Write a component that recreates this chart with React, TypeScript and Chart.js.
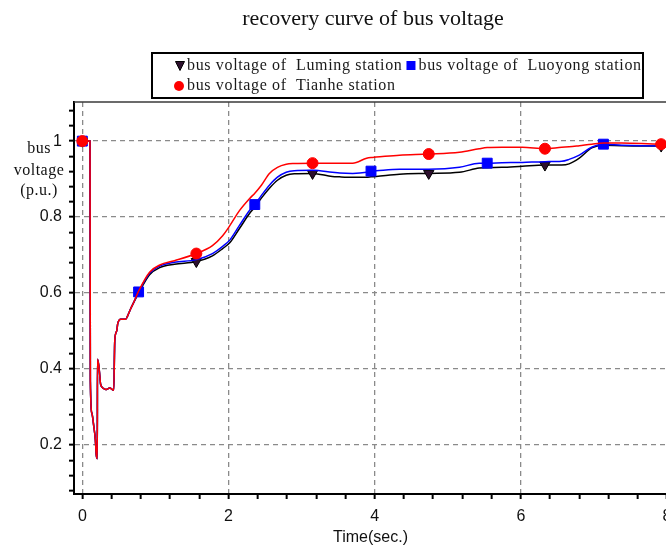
import React, { useEffect, useRef } from 'react';
import { Chart, registerables } from 'chart.js';

Chart.register(...registerables);

const chartTitle = 'recovery curve of bus voltage';
const xAxisTitle = 'Time(sec.)';
const yAxisTitleLines = ['bus', 'voltage', '(p.u.)'];
const seriesLabels = [
  'bus voltage of  Luming station',
  'bus voltage of  Luoyong station',
  'bus voltage of  Tianhe station',
];

const xMajorTicks = [0, 2, 4, 6, 8];
const xTickLabels = ['0', '2', '4', '6', '8'];
const yMajorTicks = [0.2, 0.4, 0.6, 0.8, 1];
const yTickLabels = ['0.2', '0.4', '0.6', '0.8', '1'];

const times = [
  0, 0.105, 0.11, 0.13, 0.157, 0.178, 0.19, 0.205, 0.207, 0.225,
  0.24, 0.25, 0.29, 0.32, 0.375, 0.43, 0.444, 0.47, 0.485, 0.526,
  0.594, 0.62, 0.66, 0.7, 0.77, 0.92, 1.06, 1.26, 1.56, 1.78,
  1.92, 2.02, 2.15, 2.29, 2.36, 2.45, 2.56, 2.67, 2.79, 2.9,
  3.15, 3.42, 3.52, 3.7, 3.89, 3.95, 4.02, 4.34, 4.74, 5.16,
  5.43, 5.54, 5.74, 6.02, 6.33, 6.56, 6.66, 6.8, 6.97, 7.13,
  7.38, 7.92, 8.0,
];

const lumingValues = [
  1.0, 1.0, 0.368, 0.284, 0.249, 0.214, 0.175, 0.164, 0.426, 0.41,
  0.38, 0.36, 0.349, 0.346, 0.35, 0.344, 0.476, 0.5, 0.52, 0.531,
  0.531, 0.54, 0.558, 0.574, 0.6, 0.648, 0.667, 0.676, 0.683, 0.698,
  0.717, 0.733, 0.77, 0.81, 0.826, 0.85, 0.876, 0.897, 0.91, 0.914,
  0.915, 0.907, 0.906, 0.905, 0.905, 0.906, 0.907, 0.913, 0.915, 0.918,
  0.929, 0.93, 0.931, 0.934, 0.937, 0.937, 0.94, 0.955, 0.982, 0.989,
  0.988, 0.987, 0.987,
];

const luoyongValues = [
  1.0, 1.0, 0.368, 0.284, 0.249, 0.214, 0.175, 0.164, 0.426, 0.41,
  0.38, 0.36, 0.349, 0.346, 0.35, 0.344, 0.476, 0.5, 0.52, 0.531,
  0.531, 0.54, 0.558, 0.574, 0.603, 0.652, 0.671, 0.681, 0.688, 0.704,
  0.723, 0.74, 0.778, 0.818, 0.833, 0.857, 0.884, 0.905, 0.918, 0.922,
  0.923, 0.918, 0.916, 0.915, 0.918, 0.921, 0.922, 0.926, 0.926, 0.931,
  0.942, 0.942, 0.943, 0.944, 0.946, 0.947, 0.952, 0.963, 0.984, 0.992,
  0.989, 0.987, 0.987,
];

const tianheValues = [
  1.0, 1.0, 0.368, 0.284, 0.249, 0.214, 0.175, 0.164, 0.426, 0.41,
  0.38, 0.36, 0.349, 0.346, 0.35, 0.344, 0.476, 0.5, 0.52, 0.531,
  0.531, 0.54, 0.558, 0.574, 0.605, 0.655, 0.674, 0.685, 0.704, 0.725,
  0.751, 0.778, 0.817, 0.849, 0.863, 0.884, 0.915, 0.931, 0.939, 0.941,
  0.942, 0.942, 0.942, 0.942, 0.955, 0.957, 0.958, 0.963, 0.966, 0.971,
  0.98, 0.983, 0.984, 0.984, 0.98, 0.984, 0.985, 0.988, 0.992, 0.995,
  0.995, 0.992, 0.992,
];

const lumingMarkerTimes = [0, 1.56, 3.15, 4.74, 6.33, 7.92];
const luoyongMarkerTimes = [0, 0.77, 2.36, 3.95, 5.54, 7.13];
const tianheMarkerTimes = [0, 1.56, 3.15, 4.74, 6.33, 7.92];

const SERIF = '"Liberation Serif", "Times New Roman", serif';
const SANS = '"Liberation Sans", Arial, sans-serif';

function near(a: number, b: number) {
  return Math.abs(a - b) < 1e-6;
}

function buildTicks(from: number, to: number, step: number) {
  const out: { value: number }[] = [];
  for (let v = from; v <= to + 1e-9; v += step) out.push({ value: Math.round(v * 1000) / 1000 });
  return out;
}

function toPoints(values: number[]) {
  return times.map((t, i) => ({ x: t, y: values[i] }));
}

function markerRadius(markers: number[], r: number) {
  return (ctx: any) => {
    const x = ctx.raw && ctx.raw.x;
    return markers.some((m) => near(m, x)) ? r : 0;
  };
}

const decorPlugin = {
  id: 'decor',
  afterDraw(chart: any) {
    const ctx = chart.ctx as CanvasRenderingContext2D;
    const ca = chart.chartArea;
    ctx.save();
    // top frame line
    ctx.strokeStyle = '#3a3a3a';
    ctx.lineWidth = 1.5;
    ctx.beginPath();
    ctx.moveTo(ca.left, ca.top);
    ctx.lineTo(ca.right, ca.top);
    ctx.stroke();

    // title
    ctx.fillStyle = '#111';
    ctx.font = `22px ${SERIF}`;
    ctx.textAlign = 'center';
    ctx.textBaseline = 'middle';
    ctx.fillText(chartTitle, 373, 19);

    // y-axis title
    ctx.font = `16px ${SERIF}`;
    (ctx as any).letterSpacing = '0.5px';
    const yTitleY = [149, 171, 191];
    yAxisTitleLines.forEach((line, i) => ctx.fillText(line, 39, yTitleY[i]));

    // legend box
    ctx.fillStyle = '#fff';
    ctx.fillRect(152, 53, 491, 45);
    ctx.strokeStyle = '#000';
    ctx.lineWidth = 2;
    ctx.strokeRect(152, 53, 491, 45);

    ctx.textAlign = 'left';
    ctx.font = `16px ${SERIF}`;
    (ctx as any).letterSpacing = '0.65px';
    const row1 = 66;
    const row2 = 86;
    // Luming: down triangle
    ctx.fillStyle = '#2d0f2d';
    ctx.strokeStyle = '#000';
    ctx.lineWidth = 1;
    ctx.beginPath();
    ctx.moveTo(175.5, row1 - 4.5);
    ctx.lineTo(184.5, row1 - 4.5);
    ctx.lineTo(180, row1 + 4.5);
    ctx.closePath();
    ctx.fill();
    ctx.stroke();
    ctx.fillStyle = '#1a1a1a';
    ctx.fillText(seriesLabels[0], 187, row1);
    const w1 = ctx.measureText(seriesLabels[0]).width;
    // Luoyong: blue square
    const sqX = 187 + w1 + 4;
    ctx.fillStyle = '#0000ff';
    ctx.fillRect(sqX, row1 - 5, 9, 9);
    ctx.fillStyle = '#1a1a1a';
    ctx.fillText(seriesLabels[1], sqX + 12, row1);
    // Tianhe: red circle
    ctx.fillStyle = '#ff0000';
    ctx.beginPath();
    ctx.arc(179, row2, 5, 0, Math.PI * 2);
    ctx.fill();
    ctx.fillStyle = '#1a1a1a';
    ctx.fillText(seriesLabels[2], 187, row2);
    ctx.restore();
  },
};

function majorLabel(majors: number[], labels: string[]) {
  return (value: any) => {
    const i = majors.findIndex((m) => near(m, Number(value)));
    return i >= 0 ? labels[i] : '';
  };
}

function gridColor(majors: number[]) {
  return (c: any) => {
    const v = c.tick ? c.tick.value : NaN;
    return majors.some((m) => near(m, v)) ? '#8a8a8a' : 'rgba(0,0,0,0)';
  };
}

export default function App() {
  const ref = useRef<HTMLCanvasElement>(null);

  useEffect(() => {
    if (!ref.current) return;
    const chart = new Chart(ref.current, {
      type: 'line',
      data: {
        datasets: [
          {
            label: seriesLabels[0],
            data: toPoints(lumingValues),
            order: 2,
            borderColor: '#000000',
            borderWidth: 1.5,
            backgroundColor: '#2d0f2d',
            pointBackgroundColor: '#2d0f2d',
            pointBorderColor: '#000000',
            pointBorderWidth: 1,
            pointStyle: 'triangle',
            pointRotation: 180,
            pointRadius: markerRadius(lumingMarkerTimes, 6),
            cubicInterpolationMode: 'monotone',
            fill: false,
          },
          {
            label: seriesLabels[1],
            data: toPoints(luoyongValues),
            order: 1,
            borderColor: '#0000ff',
            borderWidth: 1.5,
            backgroundColor: '#0000ff',
            pointBackgroundColor: '#0000ff',
            pointBorderColor: '#0000ff',
            pointBorderWidth: 1,
            pointStyle: 'rect',
            pointRadius: markerRadius(luoyongMarkerTimes, 7),
            cubicInterpolationMode: 'monotone',
            fill: false,
          },
          {
            label: seriesLabels[2],
            data: toPoints(tianheValues),
            order: 0,
            borderColor: '#ff0000',
            borderWidth: 1.5,
            backgroundColor: '#ff0000',
            pointBackgroundColor: '#ff0000',
            pointBorderColor: '#ff0000',
            pointBorderWidth: 1,
            pointStyle: 'circle',
            pointRadius: markerRadius(tianheMarkerTimes, 5.5),
            cubicInterpolationMode: 'monotone',
            fill: false,
          },
        ],
      },
      options: {
        responsive: false,
        animation: false,
        devicePixelRatio: 1,
        layout: { padding: { left: 0, right: 23, top: 102, bottom: 0 } },
        plugins: {
          legend: { display: false },
          title: { display: false },
          tooltip: { enabled: false },
        },
        scales: {
          x: {
            type: 'linear',
            min: -0.114,
            max: 8.0,
            afterBuildTicks: (s: any) => {
              s.ticks = buildTicks(0, 8, 0.4);
            },
            afterFit: (s: any) => {
              s.height = 54;
            },
            ticks: {
              autoSkip: false,
              maxRotation: 0,
              padding: 8,
              color: '#111',
              font: { family: SANS, size: 16 },
              callback: majorLabel(xMajorTicks, xTickLabels),
            },
            grid: {
              color: gridColor(xMajorTicks),
              lineWidth: 1.3,
              drawTicks: true,
              tickLength: 5,
              tickColor: '#000',
              tickWidth: 2,
            },
            border: { display: true, color: '#000', width: 2, dash: [5, 4] },
            title: {
              display: true,
              text: xAxisTitle,
              color: '#111',
              font: { family: SANS, size: 16 },
              padding: { top: 0, bottom: 1 },
            },
          },
          y: {
            type: 'linear',
            min: 0.071,
            max: 1.103,
            afterBuildTicks: (s: any) => {
              s.ticks = buildTicks(0.08, 1.08, 0.04);
            },
            afterFit: (s: any) => {
              s.width = 74;
            },
            ticks: {
              autoSkip: false,
              padding: 7,
              color: '#111',
              font: { family: SANS, size: 16 },
              callback: majorLabel(yMajorTicks, yTickLabels),
            },
            grid: {
              color: gridColor(yMajorTicks),
              lineWidth: 1.3,
              drawTicks: true,
              tickLength: 5,
              tickColor: '#000',
              tickWidth: 2,
            },
            border: { display: true, color: '#000', width: 2, dash: [5, 4] },
          },
        },
      },
      plugins: [decorPlugin],
    } as any);
    return () => chart.destroy();
  }, []);

  return (
    <div
      style={{
        position: 'absolute',
        left: 0,
        top: 0,
        width: 666,
        height: 548,
        overflow: 'hidden',
        background: '#fff',
      }}
    >
      <canvas ref={ref} width={690} height={548} style={{ display: 'block', width: 690, height: 548 }} />
    </div>
  );
}
